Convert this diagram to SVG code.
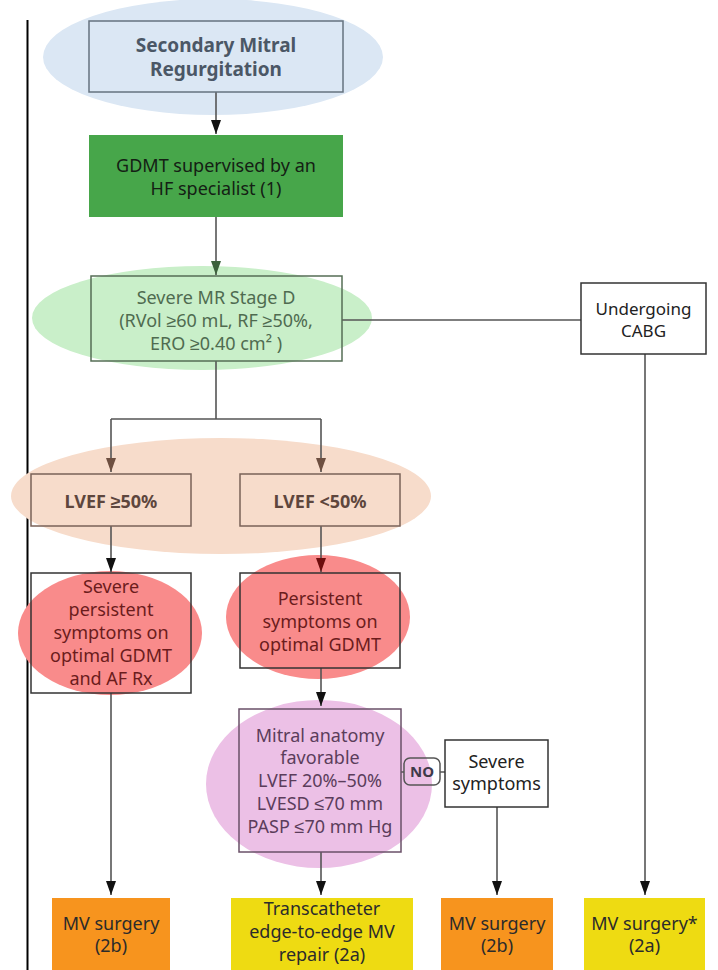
<svg xmlns="http://www.w3.org/2000/svg" width="718" height="970" viewBox="0 0 718 970">
<style>
text{font-family:"Noto Sans","Liberation Sans",sans-serif;font-size:18px;text-anchor:middle}
.b{font-weight:bold}
.t{font-size:19px}
.ln{fill:none;stroke:#555;stroke-width:1.6}
.box{fill:none;stroke:#333;stroke-width:1.5}
</style>
<defs>
<marker id="a" viewBox="0 0 14 10" refX="14" refY="5" markerWidth="14" markerHeight="10" markerUnits="userSpaceOnUse" orient="auto"><path d="M0,0 L14,5 L0,10 z" fill="#111"/></marker>
<marker id="ag" viewBox="0 0 14 10" refX="14" refY="5" markerWidth="14" markerHeight="10" markerUnits="userSpaceOnUse" orient="auto"><path d="M0,0 L14,5 L0,10 z" fill="#3d623d"/></marker>
<marker id="ab" viewBox="0 0 14 10" refX="14" refY="5" markerWidth="14" markerHeight="10" markerUnits="userSpaceOnUse" orient="auto"><path d="M0,0 L14,5 L0,10 z" fill="#6e4f40"/></marker>
<marker id="ar" viewBox="0 0 14 10" refX="14" refY="5" markerWidth="14" markerHeight="10" markerUnits="userSpaceOnUse" orient="auto"><path d="M0,0 L14,5 L0,10 z" fill="#6e0d0d"/></marker>
</defs>
<rect width="718" height="970" fill="#fff"/>
<line x1="27.5" y1="20" x2="27.5" y2="970" stroke="#000" stroke-width="2"/>

<g id="highlights">
<ellipse cx="213" cy="57" rx="170" ry="58" fill="#dbe7f4"/>
<ellipse cx="202" cy="318" rx="170" ry="52" fill="#c9efc9"/>
<ellipse cx="221" cy="496" rx="210" ry="58" fill="#f7dccb"/>
<ellipse cx="110" cy="633" rx="92" ry="62" fill="#f98b8b"/>
<ellipse cx="318" cy="617" rx="92" ry="62" fill="#f98b8b"/>
<ellipse cx="319" cy="784" rx="113" ry="84" fill="#ecc0e6"/>
</g>

<g id="connectors">
<path class="ln" d="M216,92 V134" marker-end="url(#a)"/>
<path class="ln" d="M216,217 V275" marker-end="url(#ag)"/>
<path class="ln" d="M216,361 V419 M111,419 H321"/>
<path class="ln" d="M111,419 V472" stroke="#6b5a52" marker-end="url(#ab)"/>
<path class="ln" d="M321,419 V472" stroke="#6b5a52" marker-end="url(#ab)"/>
<path class="ln" d="M342,320 H581"/>
<path class="ln" d="M111,526 V572" marker-end="url(#a)"/>
<path class="ln" d="M321,526 V572" stroke="#7a4a44" marker-end="url(#ar)"/>
<path class="ln" d="M321,668 V706" marker-end="url(#a)"/>
<path class="ln" d="M321,852 V895" marker-end="url(#a)"/>
<path class="ln" d="M401,772 H404 M440,772 H445"/>
<path class="ln" d="M497,807 V895" marker-end="url(#a)"/>
<path class="ln" d="M111,693 V895" marker-end="url(#a)"/>
<path class="ln" d="M645,354 V895" marker-end="url(#a)"/>
</g>

<g id="n-secondary-mr">
<rect x="89" y="21" width="254" height="71" fill="none" stroke="#66737f" stroke-width="1.5"/>
<text class="b t" x="216" y="52" fill="#4b5766">Secondary Mitral</text>
<text class="b t" x="216" y="76" fill="#4b5766">Regurgitation</text>
</g>

<g id="n-gdmt">
<rect x="89" y="135" width="254" height="82" fill="#47a64a"/>
<text x="216" y="172" fill="#142014">GDMT supervised by an</text>
<text x="216" y="195" fill="#142014">HF specialist (1)</text>
</g>

<g id="n-severe-mr">
<rect x="91" y="276" width="251" height="85" fill="none" stroke="#556e55" stroke-width="1.5"/>
<text x="216" y="304" fill="#4f6b50">Severe MR Stage D</text>
<text x="216" y="327" fill="#4f6b50">(RVol ≥60 mL, RF ≥50%,</text>
<text x="216" y="350" fill="#4f6b50">ERO ≥0.40 cm² )</text>
</g>

<g id="n-cabg">
<rect x="581" y="283" width="125" height="71" class="box"/>
<text x="643.5" y="315" fill="#222" style="font-size:17px">Undergoing</text>
<text x="643.5" y="337" fill="#222" style="font-size:17px">CABG</text>
</g>

<g id="n-lvef-ge50">
<rect x="31" y="474" width="160" height="52" fill="none" stroke="#7a6258" stroke-width="1.5"/>
<text class="b" x="111" y="508" fill="#5e463d">LVEF ≥50%</text>
</g>

<g id="n-lvef-lt50">
<rect x="240" y="474" width="160" height="52" fill="none" stroke="#7a6258" stroke-width="1.5"/>
<text class="b" x="320" y="508" fill="#5e463d">LVEF &lt;50%</text>
</g>

<g id="n-severe-persistent">
<rect x="31" y="573" width="160" height="120" class="box"/>
<text x="111" y="593" fill="#6b1c1c">Severe</text>
<text x="111" y="616" fill="#6b1c1c">persistent</text>
<text x="111" y="639" fill="#6b1c1c">symptoms on</text>
<text x="111" y="662" fill="#6b1c1c">optimal GDMT</text>
<text x="111" y="685" fill="#6b1c1c">and AF Rx</text>
</g>

<g id="n-persistent">
<rect x="240" y="573" width="160" height="95" class="box"/>
<text x="320" y="605" fill="#6b1c1c">Persistent</text>
<text x="320" y="628" fill="#6b1c1c">symptoms on</text>
<text x="320" y="651" fill="#6b1c1c">optimal GDMT</text>
</g>

<g id="n-mitral-anatomy">
<rect x="239" y="709" width="162" height="143" fill="none" stroke="#6a5068" stroke-width="1.5"/>
<text x="320" y="742" fill="#5b3d5b">Mitral anatomy</text>
<text x="320" y="764" fill="#5b3d5b">favorable</text>
<text x="320" y="787" fill="#5b3d5b">LVEF 20%–50%</text>
<text x="320" y="810" fill="#5b3d5b">LVESD ≤70 mm</text>
<text x="320" y="833" fill="#5b3d5b">PASP ≤70 mm Hg</text>
</g>

<g id="n-no">
<rect x="404" y="758" width="36" height="27" rx="6" fill="none" stroke="#555" stroke-width="1.5"/>
<text class="b" x="422" y="777" fill="#3f3a4a" style="font-size:15px">NO</text>
</g>

<g id="n-severe-symptoms">
<rect x="445" y="740" width="103" height="67" class="box"/>
<text x="496.5" y="768" fill="#222">Severe</text>
<text x="496.5" y="790" fill="#222">symptoms</text>
</g>

<g id="n-mv-2b-left">
<rect x="52" y="898" width="118" height="72" fill="#f7941e"/>
<text x="111" y="930" fill="#2b2b2b">MV surgery</text>
<text x="111" y="952" fill="#2b2b2b">(2b)</text>
</g>

<g id="n-teer">
<rect x="231" y="898" width="182" height="72" fill="#eedb12"/>
<text x="322" y="915" fill="#2b2b2b">Transcatheter</text>
<text x="322" y="938" fill="#2b2b2b">edge-to-edge MV</text>
<text x="322" y="961" fill="#2b2b2b">repair (2a)</text>
</g>

<g id="n-mv-2b-right">
<rect x="441" y="898" width="112" height="72" fill="#f7941e"/>
<text x="497" y="930" fill="#2b2b2b">MV surgery</text>
<text x="497" y="952" fill="#2b2b2b">(2b)</text>
</g>

<g id="n-mv-2a">
<rect x="584" y="898" width="121" height="72" fill="#eedb12"/>
<text x="644.5" y="930" fill="#2b2b2b">MV surgery*</text>
<text x="644.5" y="952" fill="#2b2b2b">(2a)</text>
</g>
</svg>
